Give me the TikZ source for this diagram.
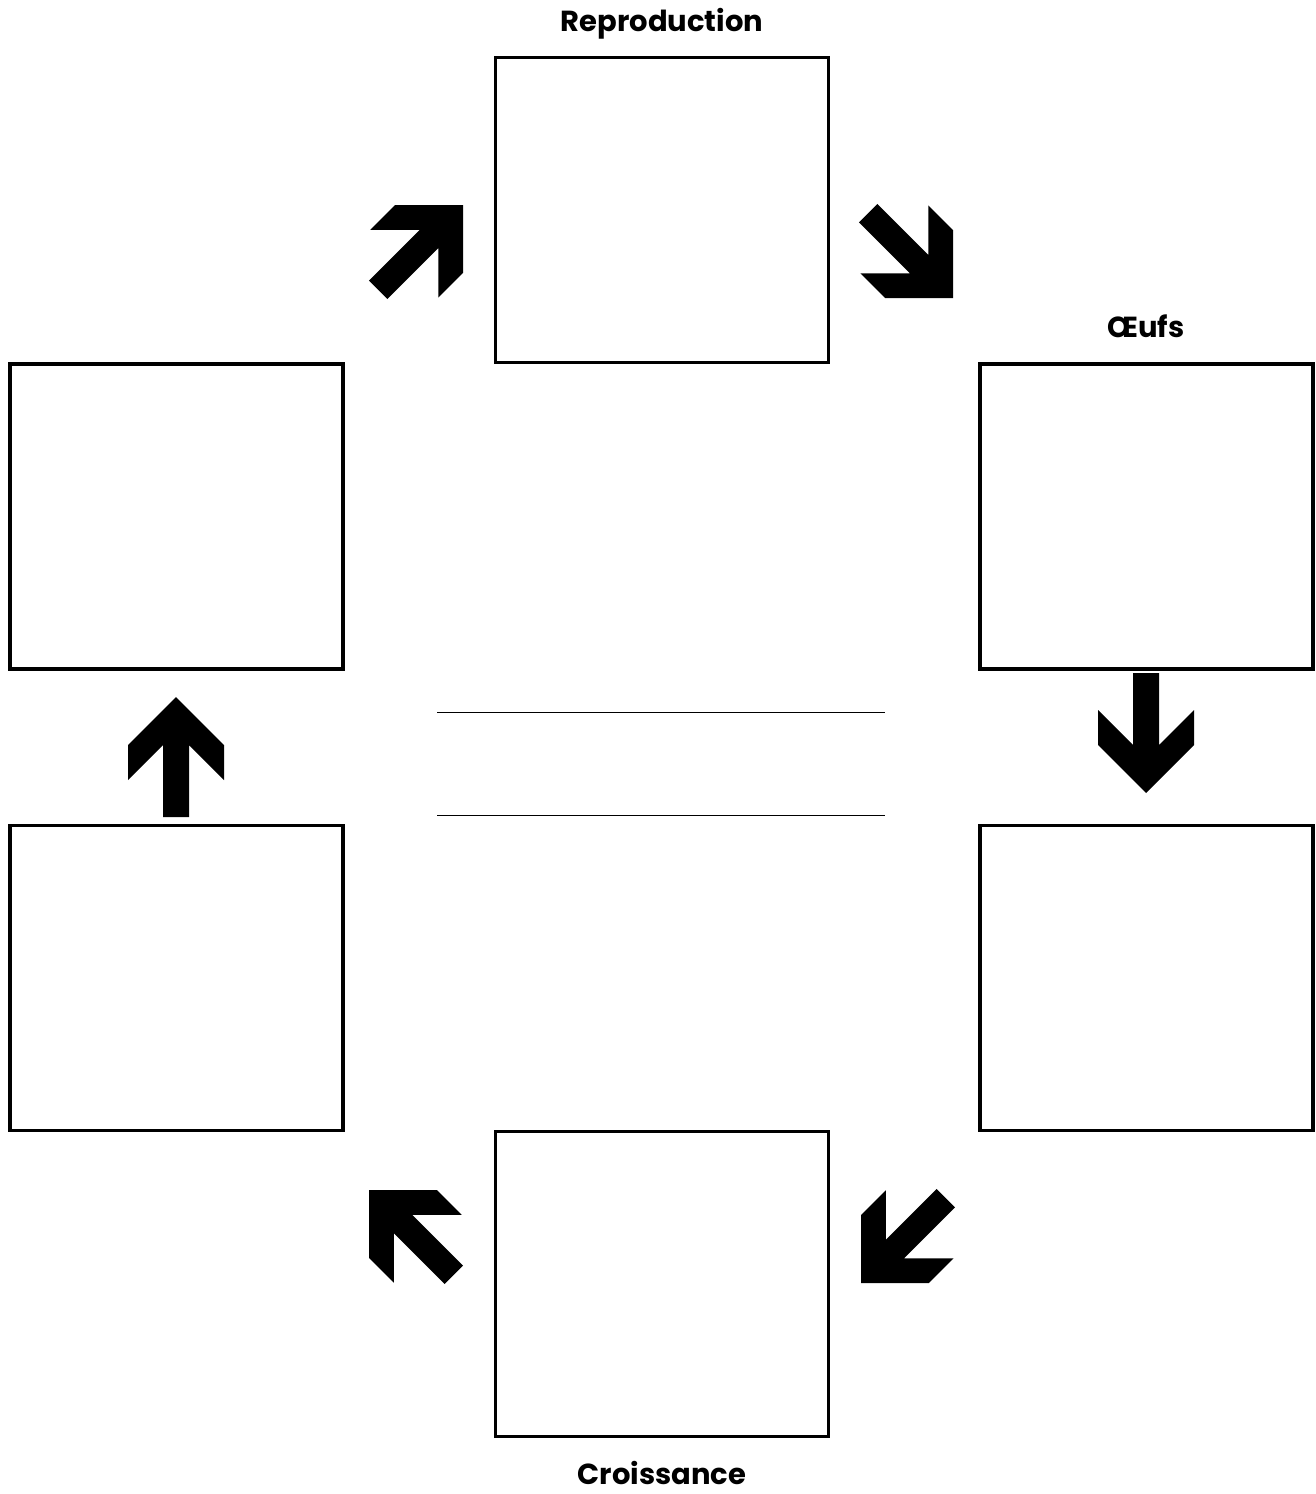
\documentclass[tikz,border=0pt]{standalone}
\usepackage{fontspec}
\setmainfont{Poppins}
\usetikzlibrary{positioning}

\tikzset{
  stage/.style={draw, line width=1.6pt, minimum width=166.5pt, minimum height=152.5pt, inner sep=0pt},
  stagename/.style={font=\fontsize{14.5}{16}\selectfont\bfseries, inner sep=0pt, anchor=base},
  writeline/.style={line width=0.5pt},
  % thick block arrow, tip at the origin, pointing up
  chevron/.pic={
    \fill[black] (0,0) -- (-48,48) -- (-48,83) -- (-13,48) -- (-13,120)
      -- (13,120) -- (13,48) -- (48,83) -- (48,48) -- cycle;
  }
}

\begin{document}
\begin{tikzpicture}[x=0.5pt, y=-0.5pt]
\useasboundingbox (0,0) rectangle (1316,1494);

% =========================================================
% the six stages of the cycle
% =========================================================
\node[stage] (repro)  at (662,210)     {};
\node[stage] (oeufs)  at (1146.5,516.5) {};
\node[stage] (rlow)   at (1146.5,978)  {};
\node[stage] (crois)  at (662,1284)    {};
\node[stage] (llow)   at (176.5,978)   {};
\node[stage] (lup)    at (176.5,516.5) {};

% titles
\node[stagename] (trepro) at (662,31)    {Reproduction};
\node[stagename] (toeufs) at (1146,337)  {Œufs};
\node[stagename] (tcrois) at (662,1484)  {Croissance};

% =========================================================
% arrows between the stages
% =========================================================
\pic[rotate=-45]  at (463,205)  {chevron};
\pic[rotate=-135] at (953,298)  {chevron};
\pic[rotate=180]  at (1146,793) {chevron};
\pic[rotate=135]  at (861,1283) {chevron};
\pic[rotate=45]   at (369,1190) {chevron};
\pic              at (176,697)  {chevron};

% lines in the middle
\coordinate (la) at (437,712);
\coordinate (lb) at (885,712);
\coordinate (lc) at (437,815);
\coordinate (ld) at (885,815);
\draw[writeline] (la) -- (lb);
\draw[writeline] (lc) -- (ld);

\end{tikzpicture}
\end{document}
